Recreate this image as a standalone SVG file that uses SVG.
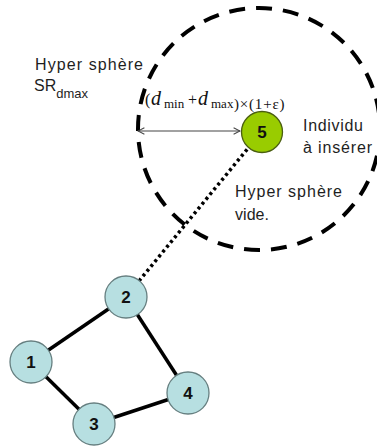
<svg xmlns="http://www.w3.org/2000/svg" width="377" height="448" viewBox="0 0 377 448">
<style>
.lbl{font-family:"Liberation Sans",Arial,sans-serif;font-size:16px;fill:#1e1e1e}
.num{font-family:"Liberation Sans",Arial,sans-serif;font-size:17px;font-weight:bold;fill:#111;text-anchor:middle}
.blue{fill:#b7dfe1;stroke:#667f80;stroke-width:1.3}
.green{fill:#99cc00;stroke:#4a5e10;stroke-width:1.3}
.edge{stroke:#000;stroke-width:3.5;fill:none}
.math{font-family:"Liberation Serif","Times New Roman",serif;fill:#111}
</style>
<defs>
<marker id="ah" viewBox="0 0 10 10" refX="9" refY="5" markerWidth="8" markerHeight="8" orient="auto-start-reverse" markerUnits="userSpaceOnUse">
<path d="M1,1 L9,5 L1,9" fill="none" stroke="#444" stroke-width="1.3"/>
</marker>
</defs>
<rect width="377" height="448" fill="#fff"/>
<circle cx="259" cy="129" r="121" fill="none" stroke="#000" stroke-width="4" stroke-dasharray="16 11"/>
<g id="connectors">
<line class="edge" x1="31" y1="362" x2="126" y2="297"/>
<line class="edge" x1="126" y1="297" x2="188" y2="393"/>
<line class="edge" x1="188" y1="393" x2="94" y2="424"/>
<line class="edge" x1="94" y1="424" x2="31" y2="362"/>
<line x1="139" y1="281" x2="249" y2="147" stroke="#000" stroke-width="3.5" stroke-dasharray="3 3.2"/>
<line x1="138" y1="131" x2="240" y2="131" stroke="#444" stroke-width="1.2" marker-start="url(#ah)" marker-end="url(#ah)"/>
</g>
<g id="node1"><circle class="blue" cx="31" cy="362" r="21"/><text class="num" x="31" y="368">1</text></g>
<g id="node2"><circle class="blue" cx="126" cy="297" r="21"/><text class="num" x="126" y="303">2</text></g>
<g id="node3"><circle class="blue" cx="94" cy="424" r="21"/><text class="num" x="94" y="430">3</text></g>
<g id="node4"><circle class="blue" cx="188" cy="393" r="21"/><text class="num" x="188" y="399">4</text></g>
<g id="node5"><circle class="green" cx="262" cy="132" r="20.5"/><text class="num" x="262" y="138">5</text></g>
<g id="labels">
<text class="lbl" x="35" y="70" textLength="108" lengthAdjust="spacing">Hyper sphère</text>
<text class="lbl" x="34" y="91">SR<tspan font-size="13" y="98">dmax</tspan></text>
<text class="lbl" x="303" y="131" textLength="60" lengthAdjust="spacing">Individu</text>
<text class="lbl" x="303" y="153" textLength="69" lengthAdjust="spacing">à insérer</text>
<text class="lbl" x="235" y="197" textLength="107" lengthAdjust="spacing">Hyper sphère</text>
<text class="lbl" x="235" y="220" textLength="34" lengthAdjust="spacing">vide.</text>
<text class="math" font-size="16"><tspan x="145" y="105">(</tspan><tspan x="151" y="105" font-style="italic" font-size="20">d</tspan><tspan x="164" y="108" font-size="13">min</tspan><tspan x="188" y="105">+</tspan><tspan x="198" y="105" font-style="italic" font-size="20">d</tspan><tspan x="211" y="108" font-size="13">max</tspan><tspan x="234" y="109" font-size="15" letter-spacing="0.8">)×(1+ε)</tspan></text>
</g>
</svg>
